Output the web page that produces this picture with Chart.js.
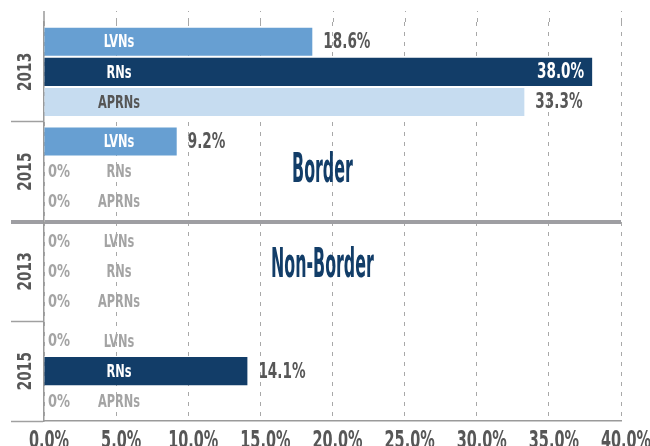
<!DOCTYPE html>
<html>
<head>
<meta charset="utf-8">
<script src="https://cdn.jsdelivr.net/npm/chart.js@4.4.0/dist/chart.umd.min.js"></script>
<style>
  html, body { margin: 0; padding: 0; background: #fff; }
  #wrap { width: 650px; height: 446px; position: relative; }
</style>
</head>
<body>
<div id="wrap"><canvas id="myChart"></canvas></div>
<script>
// year groups, top to bottom (first two = Border, last two = Non-Border)
const years = ['2013', '2015', '2013', '2015'];
const regions = ['Border', 'Non-Border'];
const seriesNames = ['LVNs', 'RNs', 'APRNs'];

// percentages
const lvns  = [18.6, 9.2, 0, 0];
const rns   = [38.0, 0, 0, 14.1];
const aprns = [33.3, 0, 0, 0];

const xTicks = [0, 5, 10, 15, 20, 25, 30, 35, 40];

const barColors  = ['#679fd2', '#123d68', '#c6dcf0'];
const nameColors = ['#ffffff', '#ffffff', '#555555'];
const grey = '#a4a4a4';
const dark = '#575757';
const navy = '#123d68';
const FONT = "'DejaVu Sans Condensed', 'DejaVu Sans', sans-serif";

// condensed look: draw text squeezed horizontally
function drawText(ctx, txt, x, y, o) {
    ctx.save();
    ctx.font = o.font;
    ctx.fillStyle = o.color;
    ctx.textAlign = o.align || 'left';
    ctx.textBaseline = o.baseline || 'middle';
    ctx.translate(x, y);
    if (o.rotate) ctx.rotate(o.rotate);
    ctx.scale(o.sx, 1);
    ctx.fillText(txt, 0, 0);
    ctx.restore();
}
function textWidth(ctx, txt, font, sx) {
    ctx.save();
    ctx.font = font;
    const w = ctx.measureText(txt).width * sx;
    ctx.restore();
    return w;
}

// lines above the plot top (reference plot starts higher than the bars)
const topExtend = {
    id: 'topExtend',
    beforeDatasetsDraw(chart) {
        const {ctx, chartArea: a, scales: {x}} = chart;
        const y0 = a.top - 11;
        ctx.save();
        ctx.strokeStyle = '#a8a8a8';
        ctx.lineWidth = 1;
        ctx.setLineDash([4, 6]);
        x.ticks.forEach(t => {
            if (t.value === 0) return;
            const px = Math.round(x.getPixelForValue(t.value)) + 0.5;
            ctx.beginPath();
            ctx.moveTo(px, a.top);
            ctx.lineTo(px, y0);
            ctx.stroke();
        });
        ctx.setLineDash([]);
        ctx.strokeStyle = '#9a9a9a';
        ctx.lineWidth = 1.5;
        ctx.beginPath();
        ctx.moveTo(a.left, a.top);
        ctx.lineTo(a.left, y0);
        ctx.stroke();
        ctx.restore();
    }
};

// draws tick labels, series names, values and the region headings
const barLabels = {
    id: 'barLabels',
    afterDatasetsDraw(chart) {
        const ctx = chart.ctx;
        const x = chart.scales.x;
        const y = chart.scales.y;
        const area = chart.chartArea;
        const zeroX = x.getPixelForValue(0);
        const nameX = x.getPixelForValue(5.2);

        const nameFont = 'bold 18px ' + FONT;
        const valFont = 'bold 21px ' + FONT;
        const zeroFont = 'bold 17px ' + FONT;

        chart.data.datasets.forEach((ds, di) => {
            const meta = chart.getDatasetMeta(di);
            meta.data.forEach((bar, i) => {
                const v = ds.data[i];
                const by = bar.y + 1;
                if (v === 0) {
                    drawText(ctx, '0%', zeroX + 4, by, { font: zeroFont, color: grey, sx: 0.85 });
                    drawText(ctx, ds.label, nameX, by, { font: nameFont, color: grey, sx: 0.7, align: 'center' });
                } else {
                    drawText(ctx, ds.label, nameX, by, { font: nameFont, color: nameColors[di], sx: 0.7, align: 'center' });
                    const txt = v.toFixed(1) + '%';
                    const w = textWidth(ctx, txt, valFont, 0.72);
                    if (bar.x + 11 + w > area.right) {
                        drawText(ctx, txt, bar.x - 8, by, { font: valFont, color: '#ffffff', sx: 0.72, align: 'right' });
                    } else {
                        drawText(ctx, txt, bar.x + 11, by, { font: valFont, color: dark, sx: 0.72 });
                    }
                }
            });
        });

        // x tick labels
        x.ticks.forEach(t => {
            drawText(ctx, t.value.toFixed(1) + '%', x.getPixelForValue(t.value) + 5, area.bottom + 27,
                { font: 'bold 24px ' + FONT, color: dark, sx: 0.67, align: 'center', baseline: 'alphabetic' });
        });

        // y group labels, rotated
        years.forEach((yr, i) => {
            drawText(ctx, yr, area.left - 18, y.getPixelForValue(i), {
                font: 'bold 20px ' + FONT, color: dark, sx: 0.76, align: 'center', rotate: -Math.PI / 2
            });
        });

        // region headings next to the separator line
        regions.forEach((r, ri) => {
            const py = y.getPixelForValue(ri === 0 ? 1 : 2) + (ri === 0 ? 0 : -5);
            drawText(ctx, r, x.getPixelForValue(19.3), py, {
                font: 'bold 40px ' + FONT, color: navy, sx: 0.44, align: 'center'
            });
        });
    }
};

const ctx = document.getElementById('myChart').getContext('2d');
const chart = new Chart(ctx, {
    type: 'bar',
    data: {
        labels: years,
        datasets: [
            { label: seriesNames[0], data: lvns,  backgroundColor: barColors[0] },
            { label: seriesNames[1], data: rns,   backgroundColor: barColors[1] },
            { label: seriesNames[2], data: aprns, backgroundColor: barColors[2] }
        ]
    },
    options: {
        indexAxis: 'y',
        responsive: true,
        maintainAspectRatio: false,
        animation: false,
        categoryPercentage: 0.905,
        barPercentage: 0.933,
        layout: { padding: { top: 22, right: 29, left: 0, bottom: 0 } },
        plugins: {
            legend: { display: false },
            tooltip: { enabled: false },
            title: { display: false }
        },
        scales: {
            x: {
                min: 0,
                max: 40,
                afterBuildTicks: (s) => { s.ticks = xTicks.map(v => ({ value: v })); },
                afterFit: (s) => { s.height = 25; },
                grid: {
                    color: '#a8a8a8',
                    lineWidth: 1,
                    drawTicks: false
                },
                border: { color: '#9a9a9a', width: 1.5, dash: [4, 6] },
                ticks: { display: false }
            },
            y: {
                afterFit: (s) => { s.width = 44; },
                grid: {
                    drawOnChartArea: true,
                    tickLength: 33,
                    color: (c) => c.index === 2 ? '#9e9ea2' : 'rgba(0,0,0,0)',
                    lineWidth: (c) => c.index === 2 ? 4 : 1,
                    tickColor: (c) => c.index === 2 ? '#9e9ea2' : (c.index === 0 ? 'rgba(0,0,0,0)' : '#a0a0a0'),
                    tickWidth: (c) => c.index === 2 ? 4 : 1.5
                },
                border: { color: '#9a9a9a', width: 1.5 },
                ticks: { display: false }
            }
        }
    },
    plugins: [topExtend, barLabels]
});
</script>
</body>
</html>
